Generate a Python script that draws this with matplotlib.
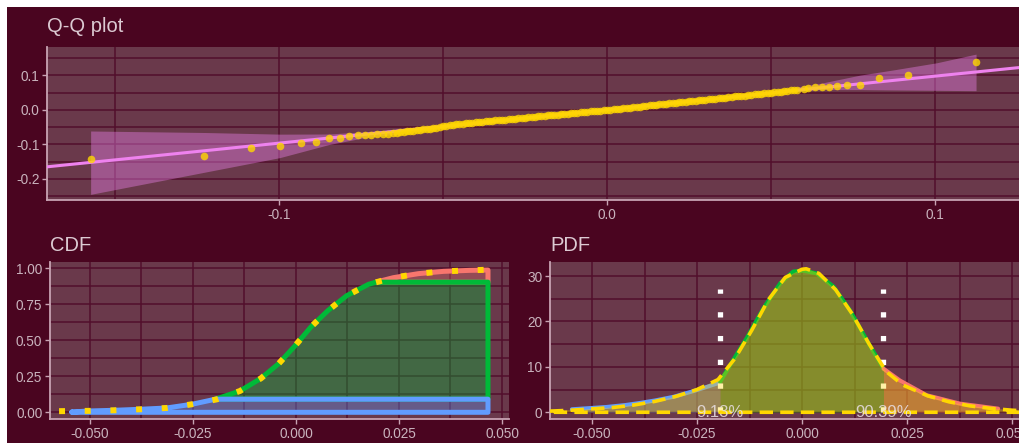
import numpy as np
import matplotlib
matplotlib.use("Agg")
import matplotlib.pyplot as plt
from matplotlib.patches import Rectangle

plt.rcParams['font.family'] = ['Liberation Sans', 'DejaVu Sans']

# ---------------- data ----------------
# Q-Q plot: theoretical (x) vs sample (y) quantiles
qq_theoretical = [
    -0.1574, -0.1228, -0.1085, -0.0997, -0.0934, -0.0886, -0.0847, -0.0813, -0.0785, -0.0760,
    -0.0738, -0.0719, -0.0700, -0.0682, -0.0667, -0.0652,
    -0.064, -0.063, -0.062, -0.061, -0.060, -0.059, -0.058, -0.057, -0.056, -0.055,
    -0.054, -0.053, -0.052, -0.051, -0.050, -0.049, -0.048, -0.047, -0.046, -0.045,
    -0.044, -0.043, -0.042, -0.041, -0.040, -0.039, -0.038, -0.037, -0.036, -0.035,
    -0.034, -0.033, -0.032, -0.031, -0.030, -0.029, -0.028, -0.027, -0.026, -0.025,
    -0.024, -0.023, -0.022, -0.021, -0.020, -0.019, -0.018, -0.017, -0.016, -0.015,
    -0.014, -0.013, -0.012, -0.011, -0.010, -0.009, -0.008, -0.007, -0.006, -0.005,
    -0.004, -0.003, -0.002, -0.001, 0.000, 0.001, 0.002, 0.003, 0.004, 0.005,
    0.006, 0.007, 0.008, 0.009, 0.010, 0.011, 0.012, 0.013, 0.014, 0.015,
    0.016, 0.017, 0.018, 0.019, 0.020, 0.021, 0.022, 0.023, 0.024, 0.025,
    0.026, 0.027, 0.028, 0.029, 0.030, 0.031, 0.032, 0.033, 0.034, 0.035,
    0.036, 0.037, 0.038, 0.039, 0.040, 0.041, 0.042, 0.043, 0.044, 0.045,
    0.046, 0.047, 0.048, 0.049, 0.050, 0.051, 0.052, 0.053, 0.054, 0.055,
    0.056, 0.057, 0.058, 0.060, 0.0614, 0.0634, 0.0655, 0.0676, 0.0701, 0.0733,
    0.0772, 0.0829, 0.0919, 0.1125]
qq_sample = [
    -0.1412, -0.1342, -0.1111, -0.1043, -0.0957, -0.0928, -0.0821, -0.0812, -0.0744, -0.0734,
    -0.0734, -0.0715, -0.0686, -0.0686, -0.0686, -0.0676,
    -0.0655, -0.0642, -0.0630, -0.0617, -0.0605, -0.0595, -0.0585, -0.0573, -0.0562, -0.0552,
    -0.0542, -0.0530, -0.0519, -0.0500, -0.0478, -0.0455, -0.0435, -0.0426, -0.0417, -0.0407,
    -0.0397, -0.0388, -0.0380, -0.0370, -0.0359, -0.0351, -0.0342, -0.0332, -0.0322, -0.0313,
    -0.0304, -0.0294, -0.0284, -0.0276, -0.0267, -0.0258, -0.0249, -0.0239, -0.0229, -0.0221,
    -0.0212, -0.0203, -0.0194, -0.0186, -0.0177, -0.0167, -0.0157, -0.0148, -0.0139, -0.0131,
    -0.0122, -0.0113, -0.0104, -0.0096, -0.0087, -0.0079, -0.0070, -0.0060, -0.0049, -0.0041,
    -0.0032, -0.0025, -0.0017, -0.0009, 0.0000, 0.0010, 0.0020, 0.0031, 0.0041, 0.0051,
    0.0061, 0.0071, 0.0081, 0.0091, 0.0101, 0.0112, 0.0122, 0.0132, 0.0142, 0.0152,
    0.0162, 0.0173, 0.0183, 0.0193, 0.0203, 0.0213, 0.0223, 0.0233, 0.0243, 0.0254,
    0.0264, 0.0272, 0.0281, 0.0291, 0.0301, 0.0312, 0.0322, 0.0332, 0.0342, 0.0352,
    0.0362, 0.0373, 0.0383, 0.0393, 0.0403, 0.0412, 0.0420, 0.0429, 0.0438, 0.0450,
    0.0461, 0.0473, 0.0484, 0.0493, 0.0501, 0.0510, 0.0519, 0.0532, 0.0545, 0.0558,
    0.0571, 0.0581, 0.0591, 0.0620, 0.0647, 0.0657, 0.0676, 0.0676, 0.0696, 0.0725,
    0.0725, 0.0937, 0.1006, 0.1382]
qq_line_slope = 0.971
qq_line_intercept = 0.001
qq_band_x = [-0.1574, -0.1228, -0.0997, -0.0847, -0.0738, -0.0652, -0.050, 0.0, 0.050,
             0.0598, 0.0649, 0.0771, 0.0872, 0.1006, 0.1125]
qq_band_lo = [-0.2445, -0.1806, -0.138, -0.100, -0.080, -0.071, -0.053, -0.003, 0.047,
              0.057, 0.059, 0.059, 0.058, 0.057, 0.056]
qq_band_hi = [-0.0609, -0.0652, -0.070, -0.0696, -0.063, -0.057, -0.045, 0.003, 0.053,
              0.0696, 0.077, 0.101, 0.116, 0.137, 0.162]

# CDF (empirical, coloured) and fitted (yellow dotted)
cdf_x = [-0.0544, -0.0504, -0.0441, -0.0378, -0.0314, -0.0252, -0.0195, -0.0136, -0.0085,
         -0.0042, -0.0002, 0.0036, 0.0078, 0.0123, 0.0176, 0.0194, 0.0236, 0.0297, 0.0358,
         0.0422, 0.0466]
cdf_y = [0.002, 0.009, 0.014, 0.021, 0.030, 0.056, 0.0913, 0.148, 0.236, 0.338, 0.463,
         0.592, 0.708, 0.810, 0.889, 0.9039, 0.935, 0.963, 0.979, 0.986, 0.988]
cdf_fit_x = [-0.0575, -0.0504, -0.0441, -0.0378, -0.0314, -0.0252, -0.0192, -0.0136, -0.0085,
             -0.0042, -0.0002, 0.0036, 0.0078, 0.0123, 0.0176, 0.0236, 0.0297, 0.0358, 0.0422,
             0.0490]
cdf_fit_y = [0.008, 0.010, 0.014, 0.021, 0.030, 0.056, 0.090, 0.148, 0.236, 0.338, 0.463,
             0.592, 0.708, 0.810, 0.889, 0.935, 0.963, 0.979, 0.986, 0.993]

cut_low_x, cut_high_x = -0.0195, 0.0194
cut_low_p, cut_high_p = 0.0913, 0.9039
pct_labels = ["9.13%", "90.39%"]

# PDF (empirical, coloured) and fitted (yellow dashed)
pdf_x = [-0.0548, -0.0500, -0.0465, -0.0420, -0.0386, -0.0350, -0.0306, -0.0251, -0.0203,
         -0.0195, -0.0164, -0.0132, -0.0092, -0.0052, -0.0021, 0.0003, 0.0035, 0.0075,
         0.0114, 0.0154, 0.0194, 0.0233, 0.0297, 0.0376, 0.0467]
pdf_y = [0.66, 0.95, 1.17, 1.6, 2.05, 2.6, 3.4, 4.86, 6.3, 6.7, 11.5, 16.3, 22.9, 28.4,
         31.0, 31.2, 30.6, 27.7, 22.5, 15.9, 9.6, 7.0, 3.75, 1.9, 0.8]
pdf_fit_x = [-0.0600, -0.0550, -0.0500, -0.0450, -0.0400, -0.0350, -0.0300, -0.0250, -0.0200,
             -0.0160, -0.0120, -0.0080, -0.0040, 0.0000, 0.0010, 0.0040, 0.0080, 0.0120,
             0.0160, 0.0200, 0.0240, 0.0300, 0.0350, 0.0400, 0.0450, 0.0500, 0.0520]
pdf_fit_y = [0.25, 0.45, 0.75, 1.05, 1.6, 2.4, 3.5, 5.0, 7.2, 11.8, 18.0, 24.8, 29.7, 31.5,
             31.6, 30.6, 27.0, 21.6, 15.0, 9.0, 6.0, 3.6, 2.3, 1.4, 0.85, 0.45, 0.35]
quantile_line_top = 27.2

# ---------------- style ----------------
BG = '#4a0520'
PANEL = '#6a394b'
GRID = '#520e2c'
AXIS = '#c8a3b3'
TICKTXT = '#c9b3bd'
TITLE = '#dccad2'
BLUE, GREEN, RED = '#619CFF', '#00BA38', '#F8766D'
GOLD = '#FFD700'
VIOLET = '#EE82EE'

W, H = 1020, 443
fig = plt.figure(figsize=(W / 100, H / 100), dpi=100, facecolor='white')
fig.add_artist(Rectangle((7 / W, 0), 1 - 7 / W, 1 - 7 / H, transform=fig.transFigure,
                         facecolor=BG, edgecolor='none', zorder=-10))


def make_axes(l, t, r, b):
    return fig.add_axes([l / W, 1 - b / H, (r - l) / W, (b - t) / H])


def style(ax, xlim, ylim, xmaj, xlab, xmin_, ymaj, ylab, ymin_):
    ax.set_facecolor(PANEL)
    ax.set_xlim(xlim)
    ax.set_ylim(ylim)
    ax.set_xticks(xmaj)
    ax.set_xticklabels(xlab)
    ax.set_yticks(ymaj)
    ax.set_yticklabels(ylab)
    ax.set_xticks(xmin_, minor=True)
    ax.set_yticks(ymin_, minor=True)
    ax.grid(True, which='both', color=GRID, lw=1.1)
    ax.set_axisbelow(True)
    for s in ['top', 'right']:
        ax.spines[s].set_visible(False)
    for s in ['left', 'bottom']:
        ax.spines[s].set_color(AXIS)
        ax.spines[s].set_linewidth(1.3)
    ax.tick_params(which='major', length=3.5, width=1, color=AXIS, labelcolor=TICKTXT,
                   labelsize=9.8, pad=2)
    ax.tick_params(which='minor', length=0)


# ---- Q-Q plot ----
ax1 = make_axes(47, 47, 1020, 200)
style(ax1, (-0.1707, 0.1259), (-0.2609, 0.1826),
      [-0.1, 0.0, 0.1], ['-0.1', '0.0', '0.1'], [-0.15, -0.05, 0.05],
      [-0.2, -0.1, 0.0, 0.1], ['-0.2', '-0.1', '0.0', '0.1'], [-0.25, -0.15, -0.05, 0.05, 0.15])
ax1.fill_between(qq_band_x, qq_band_lo, qq_band_hi, color=VIOLET, alpha=0.4, lw=0, zorder=2)
ax1.axline((0, qq_line_intercept), slope=qq_line_slope, color=VIOLET, lw=2.2, zorder=3)
ax1.scatter(qq_theoretical, qq_sample, s=30, color=GOLD, alpha=0.8, lw=0, zorder=4)

# ---- CDF ----
ax2 = make_axes(50, 262, 509, 419.3)
xt = [-0.05, -0.025, 0.0, 0.025, 0.05]
xtl = ['-0.050', '-0.025', '0.000', '0.025', '0.050']
xtm = [-0.0375, -0.0125, 0.0125, 0.0375]
style(ax2, (-0.0597, 0.0517), (-0.0486, 1.044), xt, xtl, xtm,
      [0, 0.25, 0.5, 0.75, 1.0], ['0.00', '0.25', '0.50', '0.75', '1.00'],
      [0.125, 0.375, 0.625, 0.875])

cx = np.array(cdf_x)
cy = np.array(cdf_y)
lw_band = 3.6


def band(ax, xs, top, bottom, color, alpha, z):
    px = np.concatenate([xs, [xs[-1], xs[0]], [xs[0]]])
    py = np.concatenate([top, [bottom, bottom], [top[0]]])
    ax.fill(px, py, color=color, alpha=alpha, lw=0, zorder=z)
    ax.plot(px, py, color=color, lw=lw_band, solid_joinstyle='round',
            solid_capstyle='round', zorder=z + 0.5)


m = cx >= cut_high_x
band(ax2, cx[m], cy[m], cut_high_p, RED, 0.3, 2)
m = cx >= cut_low_x
band(ax2, cx[m], np.minimum(cy[m], cut_high_p), cut_low_p, GREEN, 0.37, 3)
band(ax2, cx, np.minimum(cy, cut_low_p), 0.0, BLUE, 0.35, 4)
ax2.plot(cdf_fit_x, cdf_fit_y, color=GOLD, lw=4.3, dashes=(1, 3.3), dash_capstyle='butt',
         zorder=6)

# ---- PDF ----
ax3 = make_axes(550, 262, 1020, 419.3)
style(ax3, (-0.060, 0.0519), (-1.55, 33.1), xt, xtl, xtm,
      [0, 10, 20, 30], ['0', '10', '20', '30'], [5, 15, 25])
pxa = np.array(pdf_x)
pya = np.array(pdf_y)
segs = [(pxa <= cut_low_x, BLUE), ((pxa >= cut_low_x) & (pxa <= cut_high_x), GREEN),
        (pxa >= cut_high_x, RED)]
for mask, col in segs:
    ax3.fill_between(pxa[mask], 0, pya[mask], color=col, alpha=0.35, lw=0, zorder=2)
for mask, col in segs:
    ax3.plot(pxa[mask], pya[mask], color=col, lw=2.9, solid_capstyle='round', zorder=3)
for xq in (cut_low_x, cut_high_x):
    ax3.plot([xq, xq], [0, quantile_line_top], color='white', lw=3.8, dashes=(1, 3.5),
             dash_capstyle='butt', zorder=4)
fx = np.array(pdf_fit_x)
fy = np.array(pdf_fit_y)
polx = np.concatenate([fx, [fx[-1], fx[0], fx[0]]])
poly = np.concatenate([fy, [0, 0, fy[0]]])
ax3.fill(polx, poly, color=GOLD, alpha=0.35, lw=0, zorder=5)
ax3.plot(polx, poly, color=GOLD, lw=2.6, dashes=(3.7, 2.0), zorder=6)
for xq, lab in zip((cut_low_x, cut_high_x), pct_labels):
    ax3.text(xq, 0, lab, ha='center', va='center', fontsize=12, color='#e9dfe3',
             alpha=0.85, zorder=7)

# ---- titles ----
fig.text(47 / W, 1 - 32 / H, 'Q-Q plot', fontsize=14.5, color=TITLE, va='baseline', ha='left')
fig.text(50 / W, 1 - 251 / H, 'CDF', fontsize=14.5, color=TITLE, va='baseline', ha='left')
fig.text(550 / W, 1 - 251 / H, 'PDF', fontsize=14.5, color=TITLE, va='baseline', ha='left')

fig.savefig('out.png', dpi=100, facecolor='white')
